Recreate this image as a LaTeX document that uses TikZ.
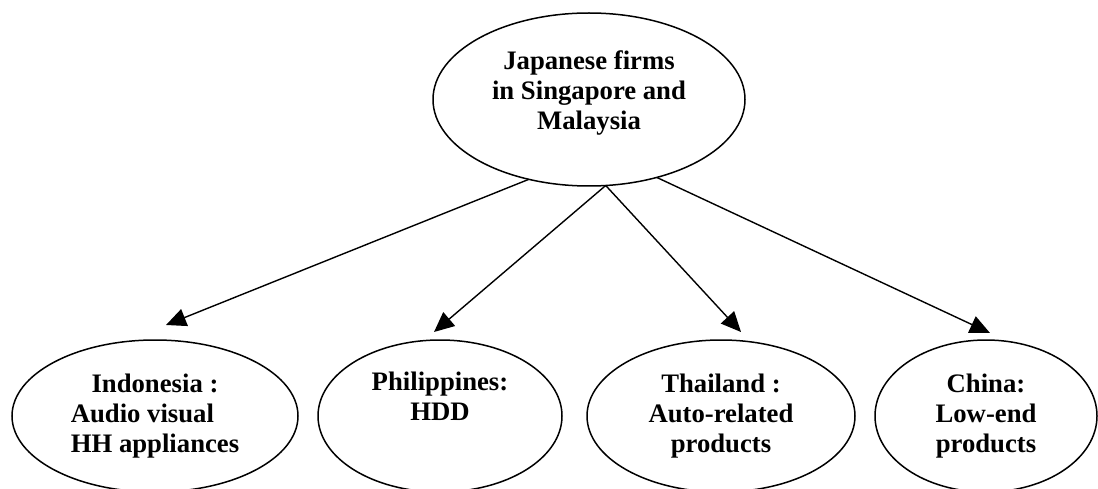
\documentclass[tikz,border=0pt]{standalone}
\usepackage{fontspec}
\setmainfont{Liberation Serif}
\usetikzlibrary{shapes.geometric,arrows.meta}
\tikzset{
  oval/.style={ellipse, draw, line width=1.5pt, inner sep=0pt, outer sep=0pt,
    align=center, font=\fontsize{26.7}{30}\selectfont\bfseries},
  arr/.style={line width=1.4pt, -{Triangle[length=20pt,width=18pt]}}
}
\begin{document}
\begin{tikzpicture}[x=1pt,y=1pt]
\useasboundingbox (0,0) rectangle (1098,488);
\node[oval, minimum width=312pt, minimum height=173pt] (top) at (589,388.5)
  {\raisebox{0pt}[0pt][0pt]{\begin{tabular}{@{}c@{}}Japanese firms\\in Singapore and\\Malaysia\end{tabular}}};
\node[oval, minimum width=286pt, minimum height=152pt] (ind) at (155,72)
  {\begin{tabular}{@{}l@{}}\multicolumn{1}{@{}c@{}}{Indonesia :}\\Audio visual\\HH appliances\end{tabular}};
\node[oval, minimum width=244pt, minimum height=152pt] (phi) at (440,72)
  {Philippines:\\HDD\\\strut};
\node[oval, minimum width=268pt, minimum height=152pt] (tha) at (721,72)
  {Thailand :\\Auto-related\\products};
\node[oval, minimum width=222pt, minimum height=152pt] (chi) at (986,72)
  {China:\\Low-end\\products};
\coordinate (tipI) at (166,163);
\coordinate (tipP) at (434,156);
\coordinate (tipT) at (741,156);
\coordinate (tipC) at (990,155);
\draw[arr] (top.233.4) -- (tipI);
\draw[arr] (top.281.8) -- (tipP);
\draw[arr] (top.281.8) -- (tipT);
\draw[arr] (top.311) -- (tipC);
\end{tikzpicture}
\end{document}
